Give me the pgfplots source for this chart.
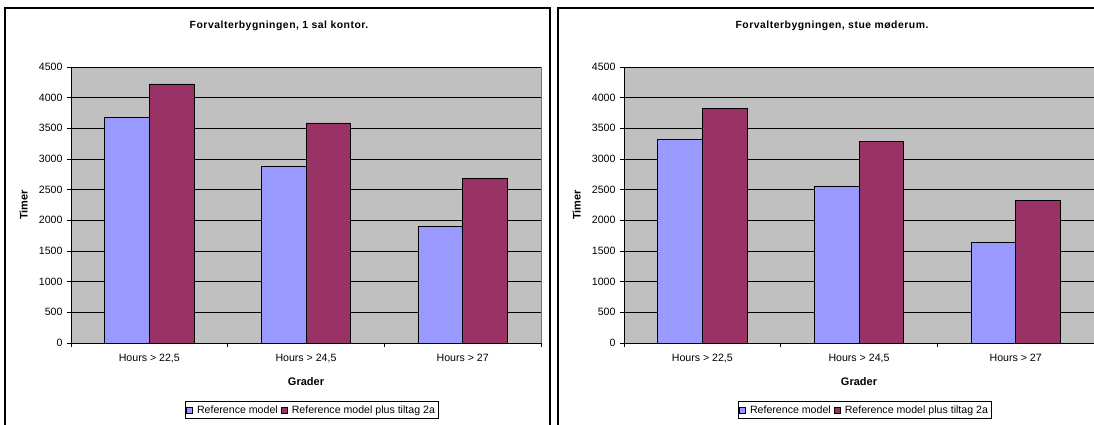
\documentclass[border=0pt]{standalone}
\usepackage{fontspec}
\setmainfont{Liberation Sans}
\usepackage{pgfplots}
\usepackage{pgfplotstable}
\pgfplotsset{compat=1.18}

\definecolor{refblue}{HTML}{9999FF}
\definecolor{refred}{HTML}{993366}
\definecolor{plotgray}{HTML}{C0C0C0}

\newcommand{\txtfont}{\fontsize{10.6bp}{12bp}\selectfont}
\newcommand{\lblfont}{\fontsize{11bp}{13bp}\selectfont\bfseries}
\newcommand{\ttlfont}{\fontsize{10.4bp}{12bp}\selectfont\bfseries\addfontfeature{LetterSpace=5}}

% hours above each temperature threshold
\pgfplotstableread{
x ref plus
0 3680 4223
1 2882 3587
2 1902 2690
}\kontor
\pgfplotstableread{
x ref plus
0 3326 3821
1 2555 3293
2 1636 2326
}\moederum

\pgfplotsset{
  panel/.style={
    anchor=south west, scale only axis, width=470bp, height=276bp,
    xmin=-0.5, xmax=2.5, ymin=0, ymax=4500,
    ytick={0,500,...,4500},
    xtick={0,1,2},
    xticklabels={{Hours > 22,5},{Hours > 24,5},{Hours > 27}},
    minor xtick={-0.5,0.5,1.5,2.5},
    major x tick style={draw=none},
    tick align=outside,
    major tick length=4bp, minor tick length=4bp,
    tick style={black, line width=0.6bp},
    ymajorgrids, grid style={black, line width=0.7bp},
    axis background/.style={fill=plotgray, draw=black!55, line width=0.8bp},
    axis x line*=bottom, axis y line*=left,
    axis line style={black, line width=0.8bp, -},
    /pgf/number format/assume math mode=true,
    /pgf/number format/set thousands separator={},
    tick label style={font=\txtfont, black},
    xticklabel style={yshift=-4bp},
    yticklabel style={xshift=-1bp},
    ybar=0pt, bar width=0.2857,
    legend columns=2,
    legend cell align=left,
    legend style={at={(0.5117,-0.2101)}, anchor=north, draw=black,
      line width=0.8bp, font=\txtfont, inner xsep=1bp, inner ysep=2bp,
      /tikz/every odd column/.append style={column sep=2.5bp},
      /tikz/every even column/.append style={column sep=1bp}},
    legend image code/.code={%
      \draw[#1, draw=black, line width=0.5bp] (0bp,-3bp) rectangle (6bp,3bp);},
  },
  refbar/.style={fill=refblue, draw=black, line width=0.6bp, bar shift=-0.14285},
  plusbar/.style={fill=refred, draw=black, line width=0.6bp, bar shift=0.14285},
}

\begin{document}
\begin{tikzpicture}[x=1bp, y=1bp]
\useasboundingbox (0,0) rectangle (1094,424);

% panel frames
\draw[black, line width=1.4bp] (5,416) rectangle (550,-6);
\draw[black, line width=1.4bp] (558,416) rectangle (1103,-6);

% left chart
\begin{axis}[panel, at={(71bp,81bp)}]
  \addplot[refbar] table[x=x, y=ref] {\kontor};
  \addplot[plusbar] table[x=x, y=plus] {\kontor};
  \legend{Reference model, Reference model plus tiltag 2a}
\end{axis}
\node[font=\ttlfont] at (279,398) {Forvalterbygningen, 1 sal kontor.};
\node[font=\lblfont, rotate=90] at (23.7,219) {Timer};
\node[font=\lblfont] at (306,42.3) {Grader};

% right chart
\begin{axis}[panel, at={(624bp,81bp)}]
  \addplot[refbar] table[x=x, y=ref] {\moederum};
  \addplot[plusbar] table[x=x, y=plus] {\moederum};
  \legend{Reference model, Reference model plus tiltag 2a}
\end{axis}
\node[font=\ttlfont] at (832,398) {Forvalterbygningen, stue møderum.};
\node[font=\lblfont, rotate=90] at (576.7,219) {Timer};
\node[font=\lblfont] at (859,42.3) {Grader};
\end{tikzpicture}
\end{document}
